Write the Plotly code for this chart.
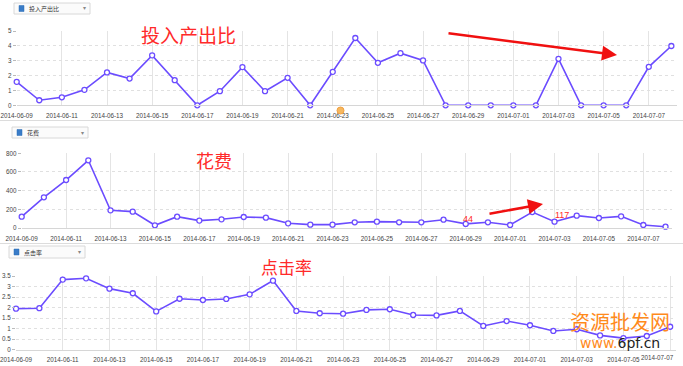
import plotly.graph_objects as go

dates = ["2014-06-09", "2014-06-10", "2014-06-11", "2014-06-12", "2014-06-13", "2014-06-14",
         "2014-06-15", "2014-06-16", "2014-06-17", "2014-06-18", "2014-06-19", "2014-06-20",
         "2014-06-21", "2014-06-22", "2014-06-23", "2014-06-24", "2014-06-25", "2014-06-26",
         "2014-06-27", "2014-06-28", "2014-06-29", "2014-06-30", "2014-07-01", "2014-07-02",
         "2014-07-03", "2014-07-04", "2014-07-05", "2014-07-06", "2014-07-07", "2014-07-08"]
roi = [1.58, 0.34, 0.54, 1.04, 2.21, 1.80, 3.36, 1.69, 0.0, 0.95,
       2.57, 0.95, 1.85, 0.0, 2.25, 4.53, 2.86, 3.51, 3.02, 0.0,
       0.0, 0.0, 0.0, 0.0, 3.13, 0.0, 0.0, 0.0, 2.59, 3.99]
cost = [121, 329, 514, 725, 189, 175, 29, 121, 79, 93,
        118, 111, 50, 36, 36, 61, 68, 61, 61, 89,
        44, 61, 32, 171, 68, 132, 107, 125, 32, 14]
ctr_dates = dates[:29]
ctr = [1.95, 1.97, 3.33, 3.39, 2.90, 2.68, 1.82, 2.42, 2.36, 2.41,
       2.63, 3.28, 1.84, 1.73, 1.71, 1.89, 1.92, 1.65, 1.63, 1.84,
       1.13, 1.36, 1.16, 0.89, 0.97, 0.68, 0.55, 0.65, 1.09]
tick_dates = dates[0:29:2]
tick_labels = list(tick_dates)
bottom_tick_labels = tick_labels[:-1] + [""]

W, H = 683, 366
LINE = "#6b4cff"
def py(p):
    return 1 - p / H
def px(p):
    return p / W

fig = go.Figure()
series = [(dates, roi, "x", "y"), (dates, cost, "x2", "y2"), (ctr_dates, ctr, "x3", "y3")]
for xs, ys, xa, ya in series:
    fig.add_trace(go.Scatter(x=xs, y=ys, xaxis=xa, yaxis=ya, mode="lines+markers",
                             line=dict(color=LINE, width=1.6),
                             marker=dict(size=5, color="white", line=dict(color=LINE, width=1.3)),
                             cliponaxis=False, showlegend=False, hoverinfo="x+y"))

TF = dict(size=6.3, color="#444", family="Liberation Sans, Arial")
xcommon = dict(type="date", tickvals=tick_dates,
               showgrid=True, gridcolor="#e4e4e4", gridwidth=1, showline=True, linecolor="#d6d6d6",
               ticks="", tickfont=TF, ticklabeloverflow="allow", ticklabelstandoff=4,
               zeroline=False, fixedrange=True, automargin=False)
ycommon = dict(showgrid=True, gridcolor="#e0e0e0", griddash="dot", showline=False,
               ticks="outside", ticklen=3, tickcolor="#bbb", tickfont=TF,
               zeroline=False, fixedrange=True, automargin=False)

fig.update_layout(
    width=W, height=H, margin=dict(l=0, r=0, t=0, b=0, autoexpand=False),
    paper_bgcolor="white", plot_bgcolor="white",
    xaxis=dict(xcommon, ticktext=tick_labels, domain=[px(16.7), px(677)],
               range=["2014-06-09", "2014-07-08 06:00"], anchor="y"),
    yaxis=dict(ycommon, domain=[py(105.3), py(31)], range=[0, 5], dtick=1, anchor="x"),
    xaxis2=dict(xcommon, ticktext=tick_labels, domain=[px(21.7), px(672)],
                range=["2014-06-09", "2014-07-08 07:00"], anchor="y2"),
    yaxis2=dict(ycommon, domain=[py(228), py(153.3)], range=[0, 800], dtick=200, anchor="x2"),
    xaxis3=dict(xcommon, ticktext=bottom_tick_labels, domain=[px(16), px(676)],
                range=["2014-06-09", "2014-07-07 06:00"], anchor="y3"),
    yaxis3=dict(ycommon, domain=[py(349.7), py(276)], range=[0, 3.5], dtick=0.5, anchor="x3"),
)

shapes = []
annotations = []
# last bottom tick label, shifted to stay inside the frame
annotations.append(dict(x=px(676), y=py(357.5), xref="paper", yref="paper", text=tick_dates[-1],
                        showarrow=False, xanchor="right", yanchor="middle", font=TF))
# panel separators
for yy in (120.5, 243.5):
    shapes.append(dict(type="line", xref="paper", yref="paper", x0=0, x1=1, y0=py(yy), y1=py(yy),
                       line=dict(color="#dcdcdc", width=1)))
# dropdown legend boxes
boxes = [(14, 3, 90, 14, "投入产出比"), (12, 127, 88, 138, "花费"), (9, 246, 85, 258, "点击率")]
for x0, y0, x1, y1, label in boxes:
    shapes.append(dict(type="rect", xref="paper", yref="paper", x0=px(x0), x1=px(x1), y0=py(y1), y1=py(y0),
                       line=dict(color="#d8d8d8", width=1), fillcolor="#fbfbfb"))
    shapes.append(dict(type="rect", xref="paper", yref="paper", x0=px(x0 + 5), x1=px(x0 + 10),
                       y0=py((y0 + y1) / 2 + 3), y1=py((y0 + y1) / 2 - 3),
                       line=dict(color="#2a6db5", width=0.5), fillcolor="#3a7cc8"))
    annotations.append(dict(x=px(x0 + 13), y=py((y0 + y1) / 2), xref="paper", yref="paper", text=label,
                            showarrow=False, xanchor="left", yanchor="middle",
                            font=dict(size=6, color="#333", family="Noto Sans CJK SC")))
    annotations.append(dict(x=px(x1 - 6), y=py((y0 + y1) / 2), xref="paper", yref="paper", text="▾",
                            showarrow=False, xanchor="center", yanchor="middle",
                            font=dict(size=6, color="#888")))

red = "#ff2a2a"
titles = [(188, 34, "投入产出比", 19), (214, 160, "花费", 18), (286, 266, "点击率", 17)]
for cx, cy, t, s in titles:
    annotations.append(dict(x=px(cx), y=py(cy), xref="paper", yref="paper", text=t, showarrow=False,
                            xanchor="center", yanchor="middle",
                            font=dict(size=s, color=red, family="Noto Sans CJK SC")))
# arrows
for (tx, ty), (hx, hy) in [((447, 33), (617, 55)), ((488, 214), (543, 204))]:
    annotations.append(dict(x=px(hx), y=py(hy), ax=tx - hx, ay=ty - hy, xref="paper", yref="paper",
                            axref="pixel", ayref="pixel", text="", showarrow=True,
                            arrowhead=2, arrowsize=1.2, arrowwidth=2.5, arrowcolor="#f01010"))
for cx, cy, t in [(468, 219, "44"), (562, 215, "117")]:
    annotations.append(dict(x=px(cx), y=py(cy), xref="paper", yref="paper", text=t, showarrow=False,
                            xanchor="center", yanchor="middle",
                            font=dict(size=9, color=red, family="Liberation Sans")))
# watermark
annotations.append(dict(x=px(620), y=py(321), xref="paper", yref="paper", text="资源批发网", showarrow=False,
                        xanchor="center", yanchor="middle",
                        font=dict(size=20, color="#ff8a1c", family="Noto Sans CJK SC")))
annotations.append(dict(x=px(620), y=py(343), xref="paper", yref="paper",
                        text="<span style='color:#ff8a1c'>www.</span>6pf.cn", showarrow=False,
                        xanchor="center", yanchor="middle",
                        font=dict(size=14, color="#222", family="DejaVu Sans")))
# small orange handle
shapes.append(dict(type="circle", xref="paper", yref="paper", x0=px(337), x1=px(344), y0=py(114), y1=py(107),
                   line=dict(color="#f0a040", width=1), fillcolor="#f6b860"))

fig.update_layout(shapes=shapes, annotations=annotations)
fig.write_html("out.html", config={"displayModeBar": False},
               post_script="document.body.style.margin='0px';")
